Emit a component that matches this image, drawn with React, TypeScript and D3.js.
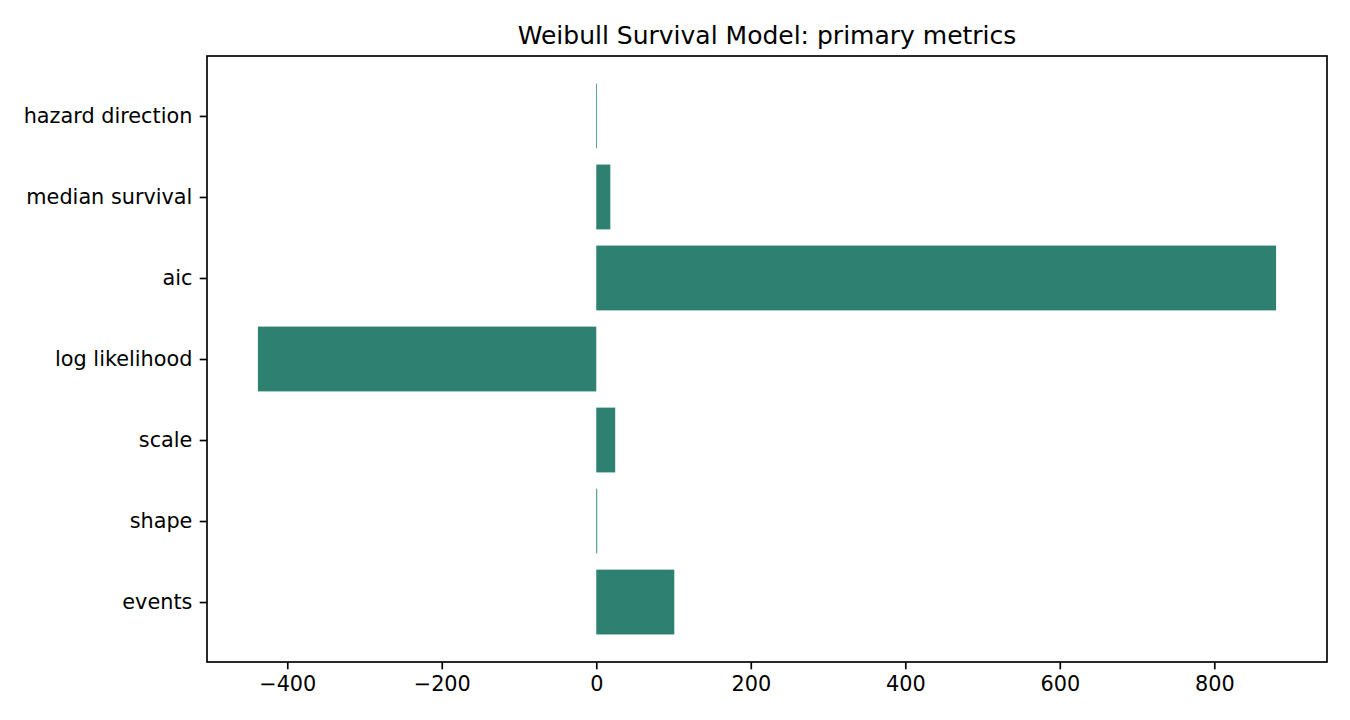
import { useEffect, useRef } from "react"
import * as d3 from "d3"

const categories = ["events", "shape", "scale", "log likelihood", "aic", "median survival", "hazard direction"]
const values = [101, 1.2, 24.5, -438, 880, 18.2, 1]
const xTicks = [-400, -200, 0, 200, 400, 600, 800]

const W = 1350
const H = 720
const margin = { top: 56, right: 23, bottom: 58, left: 207 }
const barColor = "#2e8070"
const font = "'DejaVu Sans', sans-serif"

export default function App() {
    const svgRef = useRef<SVGSVGElement | null>(null)

    useEffect(() => {
        if (!svgRef.current) return
        const svg = d3.select(svgRef.current)
        svg.selectAll("*").remove()

        const innerW = W - margin.left - margin.right
        const innerH = H - margin.top - margin.bottom

        // matplotlib-like 5% margins around data
        const lo = Math.min(0, d3.min(values)!)
        const hi = Math.max(0, d3.max(values)!)
        const pad = (hi - lo) * 0.05
        const x = d3.scaleLinear().domain([lo - pad, hi + pad]).range([0, innerW])

        const yLo = -0.4, yHi = categories.length - 1 + 0.4
        const yPad = (yHi - yLo) * 0.05
        const y = d3.scaleLinear().domain([yLo - yPad, yHi + yPad]).range([innerH, 0])
        const barH = y(0) - y(0.8)

        const g = svg.append("g").attr("transform", `translate(${margin.left},${margin.top})`)

        g.selectAll("rect.bar")
            .data(values)
            .enter()
            .append("rect")
            .attr("class", "bar")
            .attr("x", (d) => x(Math.min(0, d)))
            .attr("width", (d) => Math.abs(x(d) - x(0)))
            .attr("y", (_, i) => y(i) - barH / 2)
            .attr("height", barH)
            .attr("fill", barColor)

        const xAxis = g.append("g")
            .attr("transform", `translate(0,${innerH})`)
            .call(d3.axisBottom(x).tickValues(xTicks).tickSize(7.3).tickPadding(7.3).tickFormat(d3.format("")))
        xAxis.select(".domain").remove()
        xAxis.selectAll("line").attr("stroke", "#000").attr("stroke-width", 1.67)
        xAxis.selectAll("text").style("font-family", font).style("font-size", "20.8px").attr("fill", "#000")

        const yAxis = g.append("g")
            .call(d3.axisLeft(y).tickValues(d3.range(categories.length)).tickSize(7.3).tickPadding(7.3)
                .tickFormat((d) => categories[d as number]))
        yAxis.select(".domain").remove()
        yAxis.selectAll("line").attr("stroke", "#000").attr("stroke-width", 1.67)
        yAxis.selectAll("text").style("font-family", font).style("font-size", "20.8px").attr("fill", "#000")

        g.append("rect")
            .attr("width", innerW)
            .attr("height", innerH)
            .attr("fill", "none")
            .attr("stroke", "#000")
            .attr("stroke-width", 1.67)

        svg.append("text")
            .attr("x", margin.left + innerW / 2)
            .attr("y", margin.top - 12.5)
            .attr("text-anchor", "middle")
            .style("font-family", font)
            .style("font-size", "25px")
            .attr("fill", "#000")
            .text("Weibull Survival Model: primary metrics")
    }, [])

    return (
        <div style={{ position: "absolute", left: 0, top: 0 }}>
            <svg ref={svgRef} width={W} height={H} style={{ background: "#fff", display: "block" }} />
        </div>
    )
}
